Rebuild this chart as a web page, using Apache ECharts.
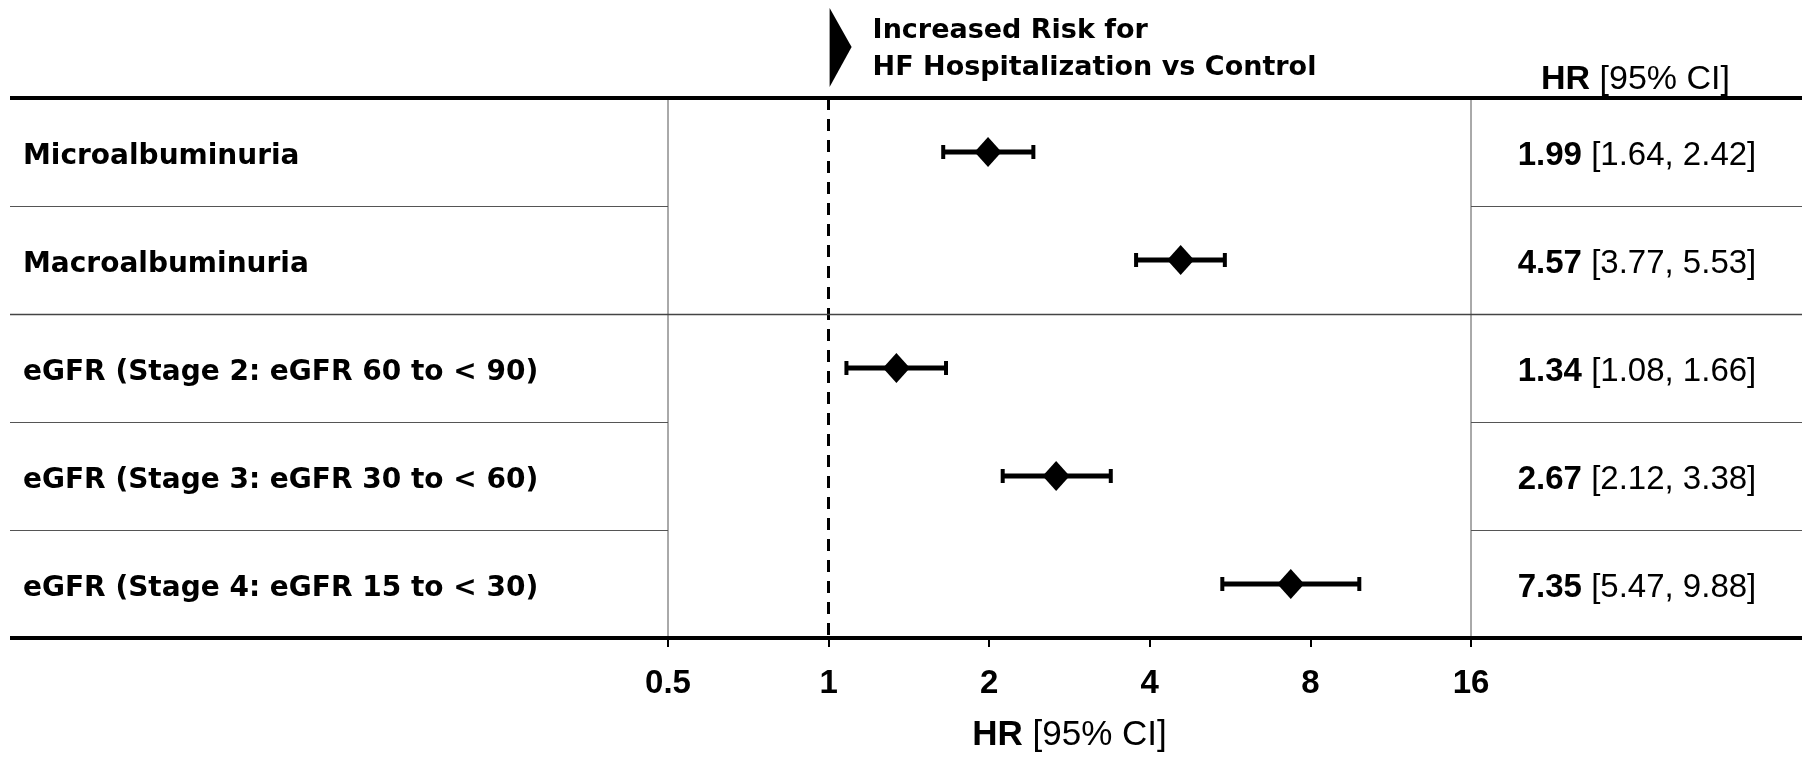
<!DOCTYPE html>
<html>
<head>
<meta charset="utf-8">
<script src="https://cdn.jsdelivr.net/npm/echarts@6/dist/echarts.min.js"></script>
<style>
  html, body { margin: 0; padding: 0; background: #fff; }
  #chart { width: 1816px; height: 758px; }
</style>
</head>
<body>
<div id="chart"></div>
<script>
const categories = [
  'Microalbuminuria',
  'Macroalbuminuria',
  'eGFR (Stage 2: eGFR 60 to < 90)',
  'eGFR (Stage 3: eGFR 30 to < 60)',
  'eGFR (Stage 4: eGFR 15 to < 30)'
];
const hr = [1.99, 4.57, 1.34, 2.67, 7.35];
const lower = [1.64, 3.77, 1.08, 2.12, 5.47];
const upper = [2.42, 5.53, 1.66, 3.38, 9.88];
const xTicks = [0.5, 1, 2, 4, 8, 16];
const headingLines = ['Increased Risk for', 'HF Hospitalization vs Control'];
const referenceValue = 1;

const W = 1816, H = 758;
const grid = { left: 668, right: 345, top: 98, bottom: 120 };
const lineLeft = 10, lineRight = 1802;

const chart = echarts.init(document.getElementById('chart'), null, { renderer: 'canvas' });

const rightLabels = categories.map((c, i) =>
  `{b|${hr[i].toFixed(2)}}{r| [${lower[i].toFixed(2)}, ${upper[i].toFixed(2)}]}`);

chart.setOption({
  animation: false,
  backgroundColor: '#fff',
  grid: {
    left: grid.left, right: grid.right, top: grid.top, bottom: grid.bottom,
    show: true, borderColor: '#555', borderWidth: 1, backgroundColor: 'transparent'
  },
  xAxis: {
    type: 'log',
    logBase: 2,
    min: xTicks[0],
    max: xTicks[xTicks.length - 1],
    splitNumber: 5,
    axisLine: { show: false },
    axisTick: { show: true, length: 9, lineStyle: { color: '#000', width: 2 } },
    splitLine: { show: false },
    axisLabel: {
      margin: 29,
      fontFamily: 'Liberation Sans',
      fontWeight: 'bold',
      fontSize: 33,
      color: '#000',
      formatter: v => {
        let best = xTicks[0];
        xTicks.forEach(t => { if (Math.abs(Math.log2(t) - Math.log2(v)) < Math.abs(Math.log2(best) - Math.log2(v))) best = t; });
        return String(best);
      }
    },
    name: '{b|HR} [95% CI]',
    nameLocation: 'middle',
    nameGap: 80,
    nameTextStyle: {
      fontFamily: 'Liberation Sans', fontSize: 35, color: '#000',
      rich: { b: { fontFamily: 'Liberation Sans', fontSize: 35, fontWeight: 'bold', color: '#000' } }
    }
  },
  yAxis: [
    {
      type: 'category',
      data: categories,
      inverse: true,
      position: 'left',
      axisLine: { show: false },
      axisTick: { show: false },
      splitLine: { show: false },
      axisLabel: {
        margin: 645,
        align: 'left',
        verticalAlign: 'top',
        lineHeight: 9,
        fontFamily: 'DejaVu Sans',
        fontWeight: 'bold',
        fontSize: 28,
        color: '#000'
      }
    },
    {
      type: 'category',
      data: categories,
      inverse: true,
      position: 'right',
      axisLine: { show: false },
      axisTick: { show: false },
      splitLine: { show: false },
      axisLabel: {
        margin: 166,
        align: 'center',
        verticalAlign: 'top',
        lineHeight: 7,
        fontFamily: 'Liberation Sans',
        fontSize: 33,
        color: '#000',
        formatter: (v, i) => rightLabels[i],
        rich: {
          b: { fontFamily: 'Liberation Sans', fontSize: 33, fontWeight: 'bold', color: '#000', lineHeight: 7 },
          r: { fontFamily: 'Liberation Sans', fontSize: 33, color: '#000', lineHeight: 7 }
        }
      }
    }
  ],
  series: [
    {
      type: 'custom',
      yAxisIndex: 0,
      encode: { x: [0, 1], y: 2 },
      data: categories.map((c, i) => [lower[i], upper[i], i]),
      z: 3,
      renderItem: (params, api) => {
        const idx = api.value(2);
        const p1 = api.coord([api.value(0), idx]);
        const p2 = api.coord([api.value(1), idx]);
        const cap = 7;
        const st = { stroke: '#000', lineWidth: 4 };
        return {
          type: 'group',
          children: [
            { type: 'line', shape: { x1: p1[0], y1: p1[1], x2: p2[0], y2: p2[1] }, style: { stroke: '#000', lineWidth: 5 } },
            { type: 'line', shape: { x1: p1[0], y1: p1[1] - cap, x2: p1[0], y2: p1[1] + cap }, style: st },
            { type: 'line', shape: { x1: p2[0], y1: p2[1] - cap, x2: p2[0], y2: p2[1] + cap }, style: st }
          ]
        };
      }
    },
    {
      type: 'scatter',
      yAxisIndex: 0,
      data: categories.map((c, i) => [hr[i], i]),
      symbol: 'diamond',
      symbolSize: [27, 30],
      itemStyle: { color: '#000', opacity: 1 },
      z: 4,
      markLine: {
        silent: true,
        symbol: 'none',
        label: { show: false },
        lineStyle: { color: '#000', width: 3, type: [12, 9], opacity: 1 },
        data: [{ xAxis: referenceValue }]
      }
    }
  ]
});

// decorations positioned from the library's own scales
const yTop = grid.top, yBot = H - grid.bottom;
const xLeft = grid.left, xRight = W - grid.right;
const rowH = (yBot - yTop) / categories.length;
const xRef = chart.convertToPixel({ xAxisIndex: 0 }, referenceValue);

const graphics = [];
[yTop, yBot].forEach(y => graphics.push({
  type: 'line', z: 10, shape: { x1: lineLeft, y1: y, x2: lineRight, y2: y },
  style: { stroke: '#000', lineWidth: 4 }
}));
for (let k = 1; k < categories.length; k++) {
  const y = Math.round(yTop + k * rowH) + 0.5;
  if (k === 2) {
    graphics.push({ type: 'line', z: 9, shape: { x1: lineLeft, y1: y, x2: lineRight, y2: y }, style: { stroke: '#444', lineWidth: 1.5 } });
  } else {
    graphics.push({ type: 'line', z: 9, shape: { x1: lineLeft, y1: y, x2: xLeft, y2: y }, style: { stroke: '#555', lineWidth: 1 } });
    graphics.push({ type: 'line', z: 9, shape: { x1: xRight, y1: y, x2: lineRight, y2: y }, style: { stroke: '#555', lineWidth: 1 } });
  }
}
graphics.push({
  type: 'polygon', z: 10,
  shape: { points: [[xRef + 1, 8], [xRef + 1, 87], [xRef + 23, 47]] },
  style: { fill: '#000' }
});
graphics.push({
  type: 'text', z: 10,
  style: {
    text: headingLines.join('\n'),
    x: xRef + 44, y: 49,
    align: 'left', verticalAlign: 'middle',
    font: 'bold 27px "DejaVu Sans"',
    lineHeight: 37,
    fill: '#000'
  }
});
graphics.push({
  type: 'text', z: 10,
  style: {
    text: '{b|HR} [95% CI]',
    x: (xRight + lineRight) / 2 - 1, y: 97,
    align: 'center', verticalAlign: 'bottom',
    fontFamily: 'Liberation Sans', fontSize: 34, fill: '#000',
    rich: { b: { fontFamily: 'Liberation Sans', fontSize: 34, fontWeight: 'bold', fill: '#000' } }
  }
});

chart.setOption({ graphic: graphics });
</script>
</body>
</html>
